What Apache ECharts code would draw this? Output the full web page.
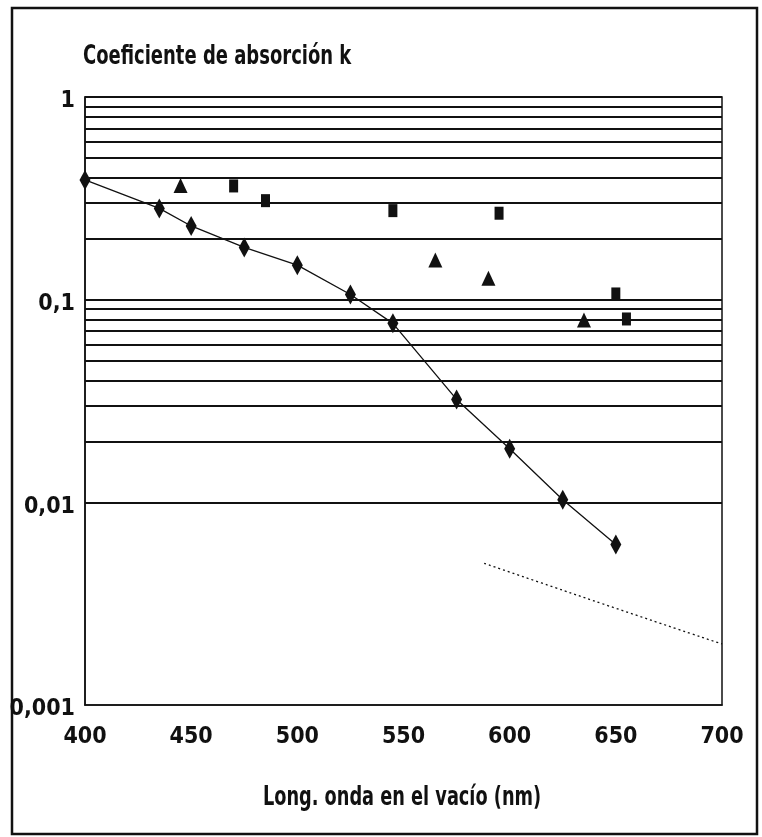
<!DOCTYPE html>
<html>
<head>
<meta charset="utf-8">
<script src="https://cdn.jsdelivr.net/npm/echarts@6/dist/echarts.min.js"></script>
<style>
  html, body { margin: 0; padding: 0; background: #fff; }
  #chart { width: 762px; height: 837px; }
</style>
</head>
<body>
<div id="chart"></div>
<script>
// Absorption coefficient k versus vacuum wavelength
const FONT = "'Liberation Sans Narrow', 'DejaVu Sans Condensed', 'Arial Narrow', sans-serif";

// Diamonds joined by a solid line
const diamondWl = [400, 435, 450, 475, 500, 525, 545, 575, 600, 625, 650];
const diamondK  = [0.39, 0.282, 0.231, 0.181, 0.148, 0.106, 0.0764, 0.0322, 0.0184, 0.0103, 0.0062];

// Triangles
const triangleWl = [445, 565, 590, 635];
const triangleK  = [0.366, 0.157, 0.1275, 0.0794];

// Squares
const squareWl = [470, 485, 545, 595, 650, 655];
const squareK  = [0.364, 0.308, 0.275, 0.267, 0.1067, 0.0803];

// Dotted extrapolation
const dottedWl = [588, 615, 650, 700];
const dottedK  = [0.005, 0.004, 0.003, 0.002];

// Axis ranges and horizontal rules (1..9 in every decade)
const xMin = 400, xMax = 700, xStep = 50;
const yMin = 0.001, yMax = 1;
const decades = [0.001, 0.01, 0.1];
const multiples = [1, 2, 3, 4, 5, 6, 7, 8, 9];

const titleText = 'Coeficiente de absorción k';
const xAxisTitle = 'Long. onda en el vacío (nm)';

const zip = (xs, ys) => xs.map((x, i) => [x, ys[i]]);

const ruleValues = [];
decades.forEach(d => multiples.forEach(m => {
  const v = +(d * m).toPrecision(3);
  if (v > yMin) ruleValues.push(v);
}));
ruleValues.push(yMax);

const labelStyle = { fontFamily: FONT, fontWeight: 'bold', fontSize: 23, color: '#111' };

const chart = echarts.init(document.getElementById('chart'), null, { renderer: 'canvas' });

chart.setOption({
  animation: false,
  backgroundColor: '#fff',
  graphic: [
    {
      type: 'rect',
      shape: { x: 12, y: 8, width: 745, height: 826 },
      style: { fill: null, stroke: '#111', lineWidth: 2.5 },
      silent: true
    },
    {
      // chart heading, set in a tall condensed face
      type: 'text',
      x: 83, y: 57,
      scaleX: 0.74,
      style: {
        text: titleText, fill: '#111',
        font: "bold 27px " + FONT,
        textAlign: 'left', textVerticalAlign: 'middle'
      },
      silent: true
    },
    {
      // horizontal axis title
      type: 'text',
      x: 402, y: 798,
      scaleX: 0.73,
      style: {
        text: xAxisTitle, fill: '#111',
        font: "bold 27px " + FONT,
        textAlign: 'center', textVerticalAlign: 'middle'
      },
      silent: true
    }
  ],
  grid: {
    left: 85, right: 40, top: 97, bottom: 132,
    show: true, borderColor: '#111', borderWidth: 1.5, backgroundColor: 'transparent'
  },
  xAxis: {
    type: 'value',
    min: xMin, max: xMax, interval: xStep,
    axisLine: { show: true, lineStyle: { color: '#111', width: 1.5 } },
    axisTick: { show: false },
    splitLine: { show: false },
    axisLabel: Object.assign({ margin: 21 }, labelStyle)
  },
  yAxis: {
    type: 'log',
    logBase: 10,
    min: yMin, max: yMax,
    axisLine: { show: true, lineStyle: { color: '#111', width: 1.5 } },
    axisTick: { show: false },
    splitLine: { show: false },
    axisLabel: Object.assign({
      margin: 10,
      formatter: v => '{k|' + String(+v.toPrecision(3)).replace('.', ',') + '}',
      rich: {
        k: Object.assign({ padding: [9, 0, 0, 0] }, labelStyle)
      }
    }, labelStyle)
  },
  series: [
    {
      name: 'rules',
      type: 'line',
      data: [],
      silent: true,
      markLine: {
        silent: true,
        symbol: 'none',
        label: { show: false },
        lineStyle: { color: '#111', width: 1.8, type: 'solid', opacity: 1 },
        data: ruleValues.map(v => ({ yAxis: v }))
      }
    },
    {
      name: 'dotted',
      type: 'line',
      data: zip(dottedWl, dottedK),
      smooth: true,
      showSymbol: false,
      lineStyle: { color: '#111', width: 1.3, type: [2, 3] },
      z: 3
    },
    {
      name: 'diamonds',
      type: 'line',
      data: zip(diamondWl, diamondK),
      symbol: 'diamond',
      symbolSize: [11, 20],
      itemStyle: { color: '#111', opacity: 1 },
      lineStyle: { color: '#111', width: 1.3 },
      z: 4
    },
    {
      name: 'triangles',
      type: 'scatter',
      data: zip(triangleWl, triangleK),
      symbol: 'triangle',
      symbolSize: [14, 15],
      itemStyle: { color: '#111', opacity: 1 },
      z: 4
    },
    {
      name: 'squares',
      type: 'scatter',
      data: zip(squareWl, squareK),
      symbol: 'rect',
      symbolSize: [9, 13],
      itemStyle: { color: '#111', opacity: 1 },
      z: 4
    }
  ]
});
</script>
</body>
</html>
